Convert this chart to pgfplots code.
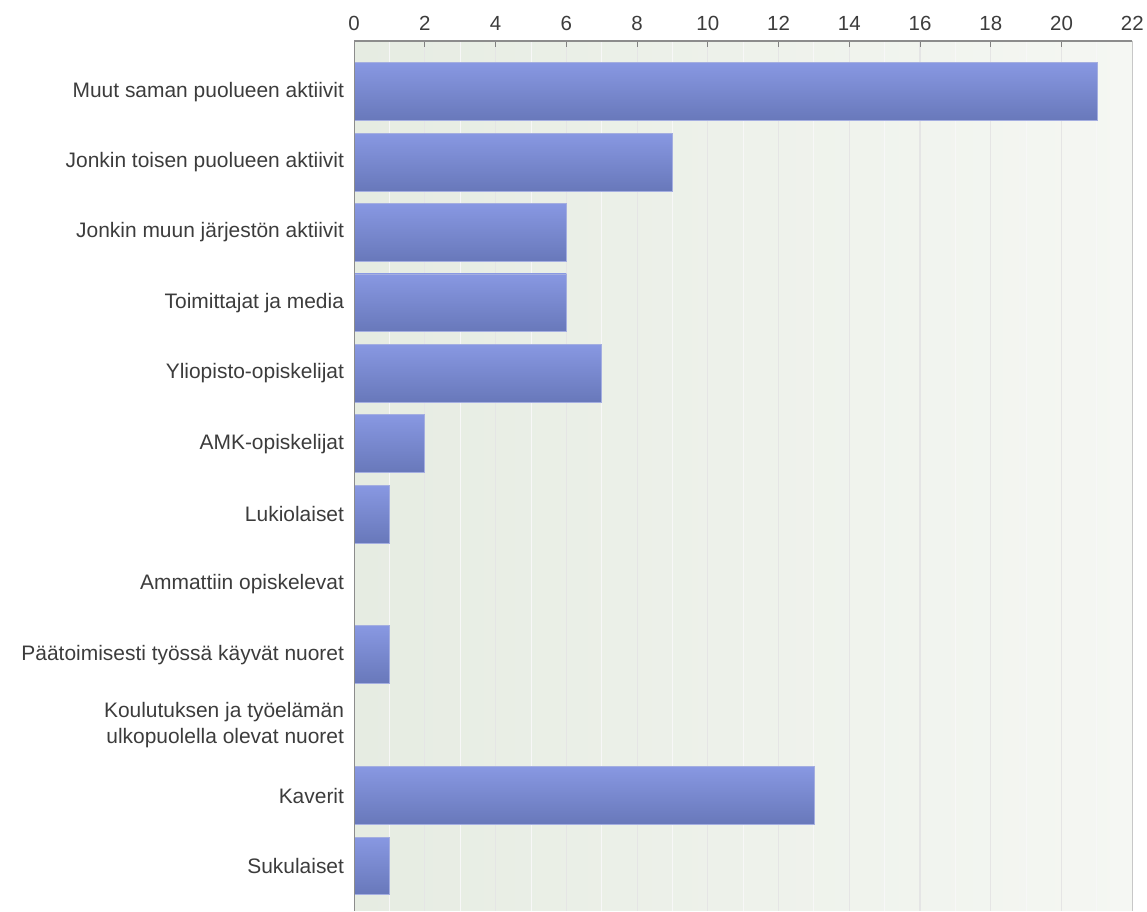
\documentclass[border=0pt]{standalone}
\usepackage{pgfplots}
\pgfplotsset{compat=1.18}
\usepackage{fontspec}
\setmainfont{Liberation Sans}

\definecolor{bartop}{HTML}{8898E2}
\definecolor{barbot}{HTML}{6878BA}
\definecolor{baredge}{HTML}{A4AEE0}
\definecolor{bgleft}{HTML}{E6ECE2}
\definecolor{bgright}{HTML}{F5F7F3}
\definecolor{txt}{HTML}{3C3C3C}

\pgfplotsset{
  onebar/.style={draw=baredge, line width=0.8pt, top color=bartop, bottom color=barbot},
  nobar/.style={draw=none, fill=none},
}

\begin{document}
\begin{tikzpicture}[x=1pt,y=1pt]
  \begin{axis}[
      at={(355pt,0pt)}, anchor=south west,
      scale only axis,
      width=780pt, height=872pt,
      xmin=0, xmax=22,
      ymin=-0.723, ymax=11.638,
      y dir=reverse,
      xbar, bar width=58pt, bar shift=0pt,
      axis x line*=top,
      axis y line*=left,
      xtick={0,2,...,22},
      minor xtick={1,3,...,21},
      tick align=inside,
      major tick length=6pt,
      minor tick length=0pt,
      xtick style={color=gray, line width=1pt},
      ytick style={draw=none},
      x axis line style={draw=none},
      y axis line style={draw=none},
      xmajorgrids, xminorgrids,
      major grid style={color=black!10, line width=1.2pt},
      minor grid style={color=black!3, line width=1pt},
      xticklabel style={font=\fontsize{20.5}{22}\selectfont, text=txt, yshift=7pt},
      /pgf/number format/assume math mode=true,
      ytick={0,...,11},
      yticklabels={
        {Muut saman puolueen aktiivit},
        {Jonkin toisen puolueen aktiivit},
        {Jonkin muun järjestön aktiivit},
        {Toimittajat ja media},
        {Yliopisto-opiskelijat},
        {AMK-opiskelijat},
        {Lukiolaiset},
        {Ammattiin opiskelevat},
        {Päätoimisesti työssä käyvät nuoret},
        {Koulutuksen ja työelämän\\ulkopuolella olevat nuoret},
        {Kaverit},
        {Sukulaiset}},
      yticklabel style={align=right, text=txt, inner sep=0pt, xshift=-10pt,
        font=\fontsize{21}{26}\selectfont},
      axis background/.style={left color=bgleft, right color=bgright},
      clip=false,
    ]
    \addplot[onebar] coordinates {(21,0)};
    \addplot[onebar] coordinates {(9,1)};
    \addplot[onebar] coordinates {(6,2)};
    \addplot[onebar] coordinates {(6,3)};
    \addplot[onebar] coordinates {(7,4)};
    \addplot[onebar] coordinates {(2,5)};
    \addplot[onebar] coordinates {(1,6)};
    \addplot[nobar]  coordinates {(0,7)};
    \addplot[onebar] coordinates {(1,8)};
    \addplot[nobar]  coordinates {(0,9)};
    \addplot[onebar] coordinates {(13,10)};
    \addplot[onebar] coordinates {(1,11)};
    % frame lines
    \draw[color=black!45, line width=1.3pt] (rel axis cs:0,0) -- (rel axis cs:0,1) -- (rel axis cs:1,1);
    \draw[color=black!22, line width=1.5pt] (rel axis cs:1,1) -- (rel axis cs:1,0);
  \end{axis}
  \path[use as bounding box] (0,0) rectangle (1147,913);
\end{tikzpicture}
\end{document}
